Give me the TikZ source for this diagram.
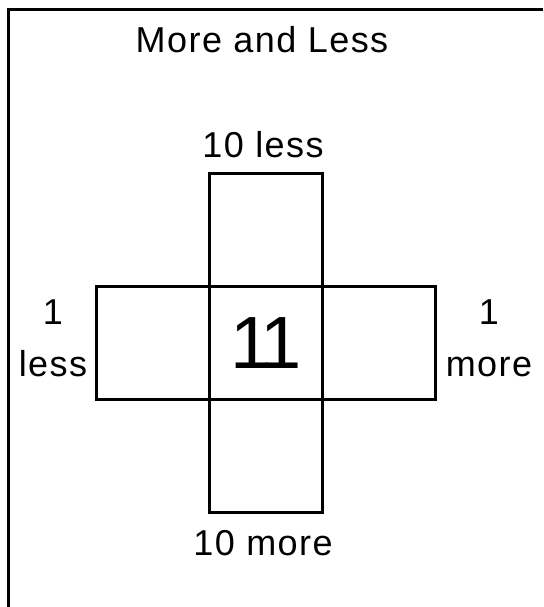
\documentclass[tikz,border=0pt]{standalone}
\usepackage{fontspec}
\setmainfont{Liberation Sans}
\newfontfamily\sketchfont[LetterSpace=4]{Liberation Sans}
\newfontfamily\bigfont[LetterSpace=-8]{Liberation Sans}
\usetikzlibrary{positioning}

\begin{document}
\begin{tikzpicture}[
    x=1pt, y=-1pt,
    node distance=0pt,
    square/.style={rectangle, draw, line width=3.4pt, minimum width=113pt, minimum height=113pt, inner sep=0pt, outer sep=0pt},
    label/.style={font=\sketchfont\fontsize{36}{52}\selectfont, align=center, inner sep=0pt},
    frame/.style={line width=3pt}
]
\useasboundingbox (0,0) rectangle (543,607);

% Frame
\draw[frame] (543,10) -- (8,10) -- (8,607);

% Title
\node[label] (title) at (262,40) {More and Less};

% Squares
\node[square] (centre) at (266,343) {\bigfont\fontsize{74}{74}\selectfont 11};
\node[square, above=of centre] (upper) {};
\node[square, below=of centre] (lower) {};
\node[square, left=of centre] (leftsq) {};
\node[square, right=of centre] (rightsq) {};

% Labels
\node[label] (tenless) at (263,145) {10 less};
\node[label] (tenmore) at (263,543) {10 more};
\node[label] (oneless) at (53,338) {1\\less};
\node[label] (onemore) at (489,338) {1\\more};

\end{tikzpicture}
\end{document}
